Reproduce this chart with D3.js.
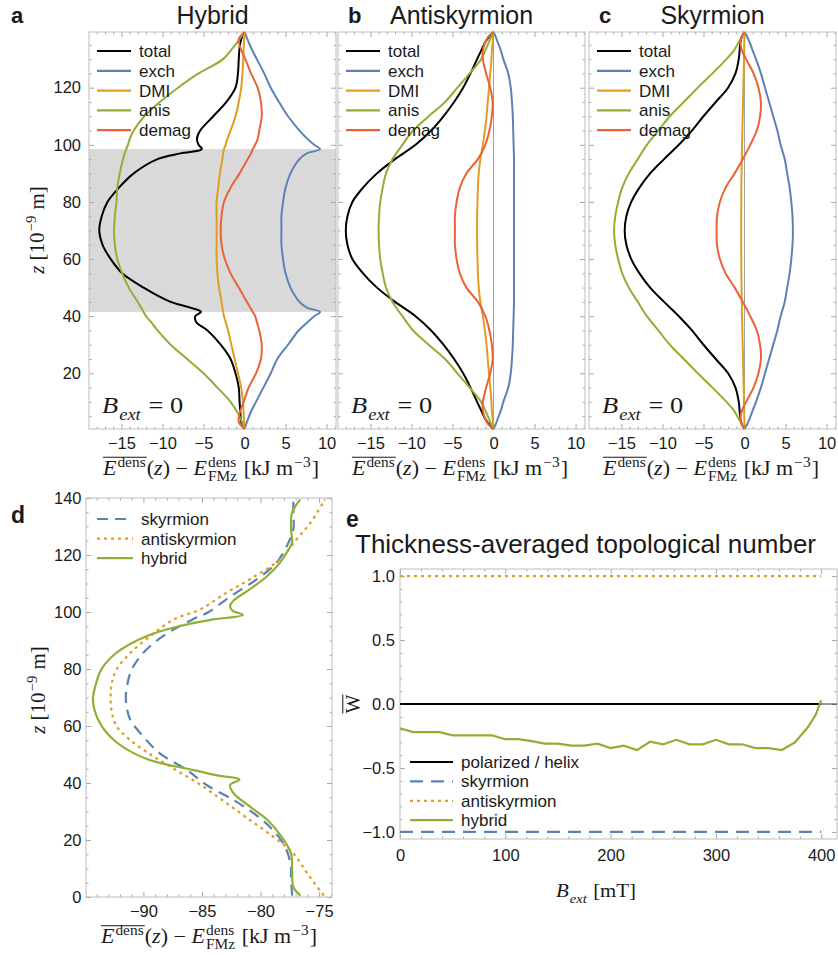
<!DOCTYPE html>
<html lang="en">
<head>
<meta charset="utf-8">
<title>Energy density profiles</title>
<style>
  body { margin: 0; background: #fff; }
  svg { display: block; }
</style>
</head>
<body>
<svg id="fig" width="838" height="955"></svg>
<script src="https://d3js.org/d3.v7.min.js"></script>
<script>
// ---------- panel a: hybrid (z in nm, energies in kJ/m^3)
const zHybrid  = [0.5, 3, 6, 10, 15, 20, 25, 30, 35, 38, 40, 41.5, 43, 45, 50, 55, 60, 65, 70, 75, 80, 85, 90, 95, 97, 98.5, 100, 102, 105, 110, 115, 120, 125, 130, 134, 137, 139.5];
const hybTotal = [0, -0.4, -0.5, -0.6, -0.7, -1.1, -1.7, -2.9, -4.5, -5.9, -6.0, -5.3, -6.6, -9.0, -12.3, -14.9, -16.3, -17.3, -17.7, -17.4, -16.7, -15.3, -13.5, -10.6, -7.8, -5.2, -5.6, -5.8, -5.4, -3.8, -2.2, -1.1, -0.8, -0.7, -0.6, -0.4, 0];
const hybExch  = [0, 0.3, 0.7, 1.4, 2.3, 3.2, 4.0, 5.3, 6.6, 7.7, 8.5, 9.2, 7.6, 6.7, 5.6, 5.0, 4.7, 4.5, 4.5, 4.5, 4.7, 5.0, 5.6, 6.7, 7.6, 9.2, 8.5, 7.7, 6.7, 5.3, 4.2, 3.2, 2.4, 1.5, 0.8, 0.35, 0];
const hybDMI   = [0, -0.05, -0.1, -0.2, -0.4, -0.8, -1.2, -1.6, -2.0, -2.3, -2.5, -2.6, -2.7, -2.8, -3.1, -3.3, -3.4, -3.4, -3.4, -3.4, -3.4, -3.2, -3.0, -2.7, -2.6, -2.5, -2.3, -2.1, -1.7, -1.1, -0.7, -0.4, -0.25, -0.15, -0.1, -0.05, 0];
const hybAnis  = [0, -0.3, -0.8, -1.7, -3.3, -5.0, -7.0, -9.0, -10.6, -11.4, -12.0, -12.3, -12.6, -13.0, -14.1, -14.9, -15.5, -15.8, -15.9, -15.8, -15.6, -15.5, -15.2, -14.8, -14.6, -14.4, -14.2, -14.0, -13.5, -12.2, -10.3, -8.1, -5.6, -2.6, -1.4, -0.6, 0];
const hybDemag = [0, -0.7, -0.6, -0.1, 0.5, 1.4, 2.0, 2.1, 1.8, 1.5, 1.3, 1.0, 0.7, 0.3, -0.7, -1.7, -2.4, -2.8, -2.9, -2.8, -2.5, -1.7, -0.6, 0.4, 0.8, 1.0, 1.3, 1.6, 1.8, 2.1, 2.0, 1.6, 0.8, 0.1, -0.5, -0.7, 0];
const hybShade = [41.5, 98.5];

// ---------- panels b, c: antiskyrmion and skyrmion
const zSym      = [0.5, 2, 4, 7, 10, 15, 20, 25, 30, 35, 40, 45, 50, 55, 60, 65, 70, 75, 80, 85, 90, 95, 100, 105, 110, 115, 120, 125, 130, 133, 136, 138, 139.5];
const antiTotal = [0, -0.5, -1.0, -1.5, -2.0, -2.8, -3.7, -4.8, -6.1, -7.6, -9.5, -12.0, -14.2, -15.9, -17.2, -17.8, -18.0, -17.8, -17.2, -15.9, -14.2, -12.0, -9.5, -7.6, -6.1, -4.8, -3.7, -2.8, -2.0, -1.5, -1.0, -0.5, 0];
const antiExch  = [0, 0.25, 0.5, 0.9, 1.2, 1.8, 2.1, 2.25, 2.35, 2.4, 2.45, 2.5, 2.5, 2.5, 2.5, 2.5, 2.5, 2.5, 2.5, 2.5, 2.5, 2.5, 2.45, 2.4, 2.35, 2.25, 2.1, 1.8, 1.2, 0.9, 0.5, 0.25, 0];
const antiDMI   = [0, -0.05, -0.1, -0.2, -0.25, -0.4, -0.55, -0.7, -0.85, -1.05, -1.3, -1.6, -1.8, -1.9, -1.95, -2.0, -2.0, -2.0, -1.95, -1.9, -1.8, -1.6, -1.3, -1.05, -0.85, -0.7, -0.55, -0.4, -0.25, -0.2, -0.1, -0.05, 0];
const antiAnis  = [0, -0.25, -0.55, -1.0, -1.5, -2.9, -4.4, -5.9, -7.9, -9.8, -11.1, -12.3, -13.1, -13.5, -13.8, -13.95, -14.0, -13.95, -13.8, -13.5, -13.1, -12.3, -11.1, -9.8, -7.9, -5.9, -4.4, -2.9, -1.5, -1.0, -0.55, -0.25, 0];
const antiDemag = [0, -0.6, -1.0, -1.3, -1.3, -0.9, -0.4, -0.1, -0.2, -0.5, -1.0, -1.9, -3.3, -4.1, -4.5, -4.7, -4.7, -4.7, -4.5, -4.1, -3.3, -1.9, -1.0, -0.5, -0.2, -0.1, -0.4, -0.9, -1.3, -1.3, -1.0, -0.6, 0];

const skyTotal = [0, -0.3, -0.5, -0.6, -0.7, -1.1, -2.0, -3.5, -5.0, -6.4, -8.0, -9.8, -11.5, -12.8, -13.8, -14.4, -14.6, -14.4, -13.8, -12.8, -11.5, -9.8, -8.0, -6.4, -5.0, -3.5, -2.0, -1.1, -0.7, -0.6, -0.5, -0.3, 0];
const skyExch  = [0, 0.3, 0.6, 1.0, 1.4, 2.0, 2.5, 3.0, 3.5, 4.0, 4.4, 4.9, 5.2, 5.5, 5.7, 5.85, 5.9, 5.85, 5.7, 5.5, 5.2, 4.9, 4.4, 4.0, 3.5, 3.0, 2.5, 2.0, 1.4, 1.0, 0.6, 0.3, 0];
const skyDMI   = [0, -0.01, -0.02, -0.04, -0.06, -0.1, -0.14, -0.18, -0.22, -0.26, -0.3, -0.33, -0.36, -0.38, -0.39, -0.4, -0.4, -0.4, -0.39, -0.38, -0.36, -0.33, -0.3, -0.26, -0.22, -0.18, -0.14, -0.1, -0.06, -0.04, -0.02, -0.01, 0];
const skyAnis  = [0, -0.3, -0.7, -1.3, -2.2, -3.9, -5.7, -7.4, -9.1, -10.5, -11.9, -13.0, -14.1, -14.9, -15.4, -15.75, -15.9, -15.75, -15.4, -14.9, -14.1, -13.0, -11.9, -10.5, -9.1, -7.4, -5.7, -3.9, -2.2, -1.3, -0.7, -0.3, 0];
const skyDemag = [0, -0.3, -0.5, -0.3, 0.2, 1.1, 1.7, 2.0, 1.9, 1.5, 0.7, -0.2, -1.2, -2.3, -3.0, -3.35, -3.4, -3.35, -3.0, -2.3, -1.2, -0.2, 0.7, 1.5, 1.9, 2.0, 1.7, 1.1, 0.2, -0.3, -0.5, -0.3, 0];

const termNames = ["total", "exch", "DMI", "anis", "demag"];

// ---------- panel d: total density profiles
const zDHybrid = [0.5, 3.5, 9.4, 15.3, 21.1, 27, 31.7, 36.4, 39.3, 41.2, 42.6, 44.6, 48.4, 54.3, 60.2, 66, 70, 74, 79.8, 85.7, 91.6, 95.1, 97.4, 99, 100.5, 102, 104, 108, 112.7, 117.5, 122, 124.5, 129, 135, 139.5];
const dHybrid  = [-76.6, -77.2, -77.3, -77.4, -78.2, -79.4, -80.9, -82.3, -82.6, -81.8, -83.6, -85.8, -89.7, -92.3, -93.6, -94.2, -94.3, -94.1, -93.6, -92.3, -89.7, -86.9, -84.0, -81.5, -82.4, -82.6, -82.3, -80.9, -79.4, -78.3, -77.6, -77.3, -77.4, -77.3, -76.6];
const zDSky    = [0.5, 7, 10.6, 17.6, 24.6, 29.4, 34, 39.3, 44.6, 50.4, 56.3, 62, 66, 70, 74, 79.8, 85.7, 91.6, 97.4, 99.8, 103.3, 106.2, 111.5, 117.5, 124.5, 129, 135, 139.5];
const dSky     = [-77.3, -77.4, -77.4, -77.9, -79.2, -80.6, -82.3, -84.6, -86.3, -88.6, -90.0, -91.1, -91.4, -91.5, -91.4, -91.0, -90.0, -88.3, -85.8, -84.5, -83.3, -82.3, -80.3, -78.6, -77.6, -77.2, -77.2, -77.2];
const zDAnti   = [0.5, 8.2, 15.3, 21.1, 27, 32.9, 39.3, 45, 50, 55, 60, 65, 70, 75, 79.8, 85.7, 91.6, 97.4, 101, 106.8, 111.5, 118.6, 125.6, 131.5, 139.5];
const dAnti    = [-74.6, -76.0, -77.2, -78.9, -80.9, -82.9, -85.1, -87.4, -89.4, -91.1, -92.3, -92.7, -92.8, -92.7, -92.3, -91.1, -89.4, -87.4, -85.1, -82.9, -80.9, -78.3, -76.9, -75.7, -74.5];

// ---------- panel e: thickness-averaged topological number vs field (mT)
const bField  = [0, 12.5, 25, 37.5, 50, 62.5, 75, 87.5, 100, 112.5, 125, 137.5, 150, 162.5, 175, 187.5, 200, 212.5, 225, 237.5, 250, 262.5, 275, 287.5, 300, 312.5, 325, 337.5, 350, 362.5, 375, 387.5, 395, 400];
const wHybrid = [-0.19, -0.22, -0.22, -0.22, -0.245, -0.245, -0.245, -0.245, -0.275, -0.275, -0.29, -0.31, -0.31, -0.325, -0.325, -0.31, -0.345, -0.325, -0.36, -0.295, -0.315, -0.28, -0.315, -0.315, -0.28, -0.315, -0.315, -0.345, -0.345, -0.36, -0.30, -0.18, -0.08, 0.03];
const bEnds = [0, 400];
const wPolarized = [0, 0];
const wSkyrmion = [-1, -1];
const wAntiskyrmion = [1, 1];

// ticks
const eTicks = [-15, -10, -5, 0, 5, 10];
const zTicksABC = [20, 40, 60, 80, 100, 120];
const zTicksD = [0, 20, 40, 60, 80, 100, 120, 140];
const eTicksD = [-90, -85, -80, -75];
const bTicks = [0, 100, 200, 300, 400];
const wTicks = [-1, -0.5, 0, 0.5, 1];

// ---------- drawing
const BLUE = "#5e81b5", ORANGE = "#e19c24", GREEN = "#8fb032", RED = "#eb6235", BLACK = "#000";
const SANS = "'Liberation Sans', Arial, Helvetica, sans-serif";
const SERIF = "'Liberation Serif', 'Times New Roman', serif";
const FRAME = "#bdbdbd", TICK = "#a8a8a8", INK = "#1a1a1a";
const NB = "\u00a0";

const svg = d3.select("#fig");
svg.append("rect").attr("width", 838).attr("height", 955).attr("fill", "#fff");

// text with sub/superscripts and an optional overline, laid out piece by piece
function mathText(parent, x, y, parts, fs, opts = {}) {
  const g = parent.append("g").attr("font-family", SERIF).attr("fill", INK);
  const inner = g.append("g");
  const small = fs * 0.7;
  let cx = 0, ol = null;
  const put = (str, px, py, size, it) => {
    const t = inner.append("text").attr("x", px).attr("y", py).attr("font-size", size)
      .attr("font-style", it ? "italic" : "normal").text(str.replace(/ /g, NB));
    return t.node().getComputedTextLength();
  };
  for (const p of parts) {
    const start = cx;
    if (p.t) {
      cx += put(p.t, cx, 0, fs, p.it);
    } else {
      let w = 0;
      if (p.sup) w = Math.max(w, put(p.sup, cx + 1, -fs * 0.38, small, p.it));
      if (p.sub) w = Math.max(w, put(p.sub, cx + 1, fs * 0.3, small, p.it));
      cx += w + 2;
    }
    if (p.ol) { if (!ol) ol = [start, cx]; else ol[1] = cx; }
  }
  if (ol) {
    inner.append("line").attr("x1", ol[0]).attr("x2", ol[1])
      .attr("y1", -fs * 0.86).attr("y2", -fs * 0.86).attr("stroke", INK).attr("stroke-width", 1);
  }
  if (opts.anchor === "middle") inner.attr("transform", `translate(${-cx / 2},0)`);
  g.attr("transform", `translate(${x},${y}) rotate(${opts.rotate || 0}) scale(${opts.sx || 1},1)`);
  return g;
}

const energyLabel = [
  { t: "E", it: true, ol: true }, { sup: "dens", ol: true },
  { t: "(" }, { t: "z", it: true }, { t: ") \u2212 " },
  { t: "E", it: true }, { sup: "dens", sub: "FMz" },
  { t: " [kJ m" }, { sup: "\u22123" }, { t: "]" }
];
const zLabel = [{ t: "z", it: true }, { t: " [10" }, { sup: "\u22129" }, { t: " m]" }];

function frameAxes(g, x, y, box, o) {
  const mk = (axisFn, scale, vals, size, fmt, tr, pad) => {
    const a = axisFn(scale).tickValues(vals).tickSize(-size).tickPadding(pad || 0)
      .tickFormat(fmt || (() => ""));
    const sel = g.append("g").attr("transform", tr).call(a);
    sel.select(".domain").remove();
    sel.selectAll(".tick line").attr("stroke", TICK);
    sel.selectAll("text").attr("font-family", SANS).attr("font-size", 16.5).attr("fill", INK);
    return sel;
  };
  const minorOf = (vals, major) => vals.filter(v => !major.some(m => Math.abs(m - v) < 1e-6));
  const xm = minorOf(o.xMinor, o.xMajor), ym = minorOf(o.yMinor, o.yMajor);
  mk(d3.axisBottom, x, xm, 2.5, null, `translate(0,${box.y1})`);
  mk(d3.axisTop, x, xm, 2.5, null, `translate(0,${box.y0})`);
  mk(d3.axisLeft, y, ym, 2.5, null, `translate(${box.x0},0)`);
  mk(d3.axisRight, y, ym, 2.5, null, `translate(${box.x1},0)`);
  mk(d3.axisBottom, x, o.xMajor, 5, o.xFmt, `translate(0,${box.y1})`, o.xPad);
  mk(d3.axisTop, x, o.xMajor, 5, null, `translate(0,${box.y0})`);
  mk(d3.axisLeft, y, o.yMajor, 5, o.yFmt, `translate(${box.x0},0)`, o.yPad);
  mk(d3.axisRight, y, o.yMajor, 5, null, `translate(${box.x1},0)`);
  g.append("rect").attr("x", box.x0).attr("y", box.y0)
    .attr("width", box.x1 - box.x0).attr("height", box.y1 - box.y0)
    .attr("fill", "none").attr("stroke", FRAME);
}

function legend(g, x0, y0, dy, items, len) {
  items.forEach((it, i) => {
    const yy = y0 + i * dy;
    g.append("line").attr("x1", x0).attr("x2", x0 + len).attr("y1", yy).attr("y2", yy)
      .attr("stroke", it.color).attr("stroke-width", 2.2)
      .attr("stroke-dasharray", it.dash || null);
    g.append("text").attr("x", x0 + len + 8).attr("y", yy + 6)
      .attr("font-family", SANS).attr("font-size", 17).attr("fill", INK).text(it.name);
  });
}

const eDomain = [-18.95, 11.15];
const zDomainABC = [0.5, 139.5];
const smooth = d3.curveCatmullRom.alpha(0.5);

function profilePanel(p) {
  const box = p.box;
  const g = svg.append("g");
  const x = d3.scaleLinear().domain(eDomain).range([box.x0, box.x1]);
  const y = d3.scaleLinear().domain(zDomainABC).range([box.y1, box.y0]);
  if (p.shade) {
    g.append("rect").attr("x", box.x0).attr("width", box.x1 - box.x0)
      .attr("y", y(p.shade[1])).attr("height", y(p.shade[0]) - y(p.shade[1])).attr("fill", "#d9d9d9");
  }
  frameAxes(g, x, y, box, {
    xMajor: eTicks, xMinor: d3.range(-18, 12, 1), xFmt: d3.format("d"), xPad: 8,
    yMajor: zTicksABC, yMinor: d3.range(5, 140, 5), yFmt: p.yLabels ? d3.format("d") : null, yPad: 8
  });
  if (p.zeroLine) {
    g.append("line").attr("x1", x(0)).attr("x2", x(0)).attr("y1", box.y0).attr("y2", box.y1)
      .attr("stroke", "#a0a0a0").attr("stroke-width", 1);
  }
  const line = d3.line().x(d => x(d[0])).y(d => y(d[1])).curve(smooth);
  const colors = [BLACK, BLUE, ORANGE, GREEN, RED];
  p.series.forEach((vals, i) => {
    g.append("path").datum(vals.map((v, k) => [v, p.z[k]]))
      .attr("d", line).attr("fill", "none").attr("stroke", colors[i]).attr("stroke-width", 2);
  });
  legend(g, box.x0 + 8, 51, 19.8, termNames.map((n, i) => ({ name: n, color: colors[i] })), 34);
  mathText(g, box.x0 + 13, 413, [{ t: "B", it: true }, { sub: "ext", it: true }, { t: " = 0" }], 24, { sx: 1.1 });
  g.append("text").attr("x", p.letterX).attr("y", 23).attr("font-family", SANS).attr("font-weight", "bold")
    .attr("font-size", 22).attr("fill", INK).text(p.letter);
  g.append("text").attr("x", (box.x0 + box.x1) / 2).attr("y", 24).attr("text-anchor", "middle")
    .attr("font-family", SANS).attr("font-size", 25).attr("fill", INK).text(p.title);
  mathText(g, (box.x0 + box.x1) / 2 - 1.5, 474.5, energyLabel, 20, { anchor: "middle", sx: 1.1 });
}

profilePanel({ box: { x0: 89, x1: 336, y0: 32, y1: 429 }, letter: "a", letterX: 11, title: "Hybrid",
  z: zHybrid, series: [hybTotal, hybExch, hybDMI, hybAnis, hybDemag], shade: hybShade, yLabels: true });
profilePanel({ box: { x0: 338, x1: 585, y0: 32, y1: 429 }, letter: "b", letterX: 348, title: "Antiskyrmion",
  z: zSym, series: [antiTotal, antiExch, antiDMI, antiAnis, antiDemag], zeroLine: true });
profilePanel({ box: { x0: 589, x1: 836, y0: 32, y1: 429 }, letter: "c", letterX: 599, title: "Skyrmion",
  z: zSym, series: [skyTotal, skyExch, skyDMI, skyAnis, skyDemag], zeroLine: true });
mathText(svg, 44, 230, zLabel, 21, { anchor: "middle", rotate: -90 });

// ---------- panel d
(function () {
  const box = { x0: 86, x1: 332, y0: 498, y1: 897 };
  const g = svg.append("g");
  const x = d3.scaleLinear().domain([-94.9, -73.9]).range([box.x0, box.x1]);
  const y = d3.scaleLinear().domain([0, 140]).range([box.y1, box.y0]);
  frameAxes(g, x, y, box, {
    xMajor: eTicksD, xMinor: d3.range(-94, -73, 1), xFmt: d3.format("d"), xPad: 8,
    yMajor: zTicksD, yMinor: d3.range(5, 140, 5), yFmt: d3.format("d"), yPad: 4.5
  });
  const line = d3.line().x(d => x(d[0])).y(d => y(d[1])).curve(smooth);
  const series = [
    { z: zDSky, v: dSky, color: BLUE, dash: "11,7", name: "skyrmion" },
    { z: zDAnti, v: dAnti, color: ORANGE, dash: "3,4", name: "antiskyrmion" },
    { z: zDHybrid, v: dHybrid, color: GREEN, dash: null, name: "hybrid" }
  ];
  series.forEach(s => {
    g.append("path").datum(s.v.map((v, k) => [v, s.z[k]]))
      .attr("d", line).attr("fill", "none").attr("stroke", s.color).attr("stroke-width", 2.2)
      .attr("stroke-dasharray", s.dash);
  });
  legend(g, 97, 519, 19.6, series, 36);
  g.append("text").attr("x", 11).attr("y", 523).attr("font-family", SANS).attr("font-weight", "bold")
    .attr("font-size", 23).attr("fill", INK).text("d");
  mathText(g, 45, 690, zLabel, 21, { anchor: "middle", rotate: -90 });
  mathText(g, 209, 943, energyLabel, 20, { anchor: "middle", sx: 1.1 });
})();

// ---------- panel e
(function () {
  const box = { x0: 400, x1: 837, y0: 569, y1: 839 };
  const g = svg.append("g");
  const x = d3.scaleLinear().domain([0, 415]).range([box.x0, box.x1]);
  const y = d3.scaleLinear().domain([-1.055, 1.055]).range([box.y1, box.y0]);
  frameAxes(g, x, y, box, {
    xMajor: bTicks, xMinor: d3.range(0, 415, 20), xFmt: d3.format("d"), xPad: 10,
    yMajor: wTicks, yMinor: d3.range(-10, 11).map(v => v / 10), yFmt: d3.format(".1f"), yPad: 5
  });
  g.append("line").attr("x1", box.x0).attr("x2", box.x1).attr("y1", y(0)).attr("y2", y(0))
    .attr("stroke", BLACK).attr("stroke-width", 0.8);
  const line = d3.line().x(d => x(d[0])).y(d => y(d[1]));
  const series = [
    { b: bEnds, w: wPolarized, color: BLACK, dash: null, name: "polarized / helix" },
    { b: bEnds, w: wSkyrmion, color: BLUE, dash: "13,8", name: "skyrmion" },
    { b: bEnds, w: wAntiskyrmion, color: ORANGE, dash: "3,4", name: "antiskyrmion" },
    { b: bField, w: wHybrid, color: GREEN, dash: null, name: "hybrid" }
  ];
  series.forEach(s => {
    g.append("path").datum(s.b.map((b, k) => [b, s.w[k]]))
      .attr("d", line).attr("fill", "none").attr("stroke", s.color).attr("stroke-width", 2.2)
      .attr("stroke-dasharray", s.dash);
  });
  legend(g, 410, 762, 19.4, series, 43);
  g.append("text").attr("x", 346).attr("y", 527).attr("font-family", SANS).attr("font-weight", "bold")
    .attr("font-size", 23).attr("fill", INK).text("e");
  g.append("text").attr("x", 355).attr("y", 553).attr("font-family", SANS).attr("font-size", 26)
    .attr("fill", INK).text("Thickness-averaged topological number");
  mathText(g, 360, 704, [{ t: "W", ol: true }], 20, { anchor: "middle", rotate: -90 });
  mathText(g, 596, 897, [{ t: "B", it: true }, { sub: "ext", it: true }, { t: " [mT]" }], 19, { anchor: "middle", sx: 1.1 });
})();
</script>
</body>
</html>
